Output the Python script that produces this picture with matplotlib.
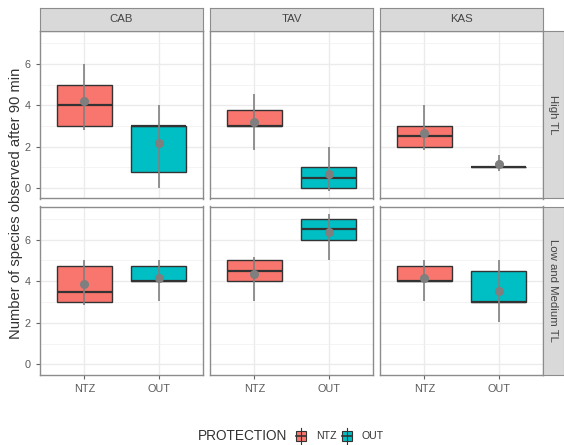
import matplotlib.pyplot as plt
from matplotlib.patches import Rectangle
from matplotlib.lines import Line2D
from matplotlib.transforms import Affine2D

plt.rcParams['font.family'] = ['Liberation Sans', 'DejaVu Sans']

sites = ["CAB", "TAV", "KAS"]
levels = ["High TL", "Low and Medium TL"]
protection = ["NTZ", "OUT"]
colors = ["#F8766D", "#00BFC4"]

# [level][site][NTZ, OUT]
q1 = [[[3, 0.75], [3, 0], [2, 1]],
      [[3, 4], [4, 6], [4, 3]]]
med = [[[4, 3], [3, 0.5], [2.5, 1]],
       [[3.5, 4], [4.5, 6.5], [4, 3]]]
q3 = [[[5, 3], [3.75, 1], [3, 1]],
      [[4.75, 4.75], [5, 7], [4.75, 4.5]]]
mean = [[[4.2, 2.17], [3.2, 0.68], [2.68, 1.17]],
        [[3.85, 4.17], [4.36, 6.35], [4.17, 3.52]]]
lo = [[[2.8, 0], [1.83, -0.14], [1.83, 0.8]],
      [[2.84, 3.05], [3.06, 5.03], [3.06, 2.03]]]
hi = [[[6, 4], [4.55, 2], [4, 1.6]],
      [[5, 5], [5.17, 7.22], [5, 5]]]

W, H = 564, 445
fig = plt.figure(figsize=(W / 100, H / 100), dpi=100)
px = Affine2D().scale(1 / W, -1 / H).translate(0, 1) + fig.transFigure

def rect(x0, y0, x1, y1):
    return [x0 / W, 1 - y1 / H, (x1 - x0) / W, (y1 - y0) / H]

border = "#8c8c8c"
col_x = [40, 210, 380]
pw = 163
row_y = [(31, 198.5), (206.5, 375)]

for r in range(2):
    for c in range(3):
        ax = fig.add_axes(rect(col_x[c], row_y[r][0], col_x[c] + pw, row_y[r][1]))
        stats = []
        for k in range(2):
            stats.append(dict(med=med[r][c][k], q1=q1[r][c][k], q3=q3[r][c][k],
                              whislo=q1[r][c][k], whishi=q3[r][c][k], fliers=[]))
        bp = ax.bxp(stats, positions=[1, 2], widths=0.75, patch_artist=True,
                    showcaps=False, showfliers=False,
                    boxprops=dict(edgecolor="#333333", linewidth=1),
                    medianprops=dict(color="#333333", linewidth=1.6),
                    whiskerprops=dict(linewidth=0))
        for k, b in enumerate(bp["boxes"]):
            b.set_facecolor(colors[k])
            b.set_zorder(2)
        for m in bp["medians"]:
            m.set_zorder(3)
        ax.vlines([1, 2], lo[r][c], hi[r][c], color="#808080", linewidth=1.2, zorder=4)
        ax.plot([1, 2], mean[r][c], "o", color="#7f7f7f", markersize=5.5, zorder=5)

        ax.set_xlim(0.4, 2.6)
        ax.set_ylim(-0.51, 7.59)
        ax.set_xticks([1, 2])
        ax.set_yticks([0, 2, 4, 6])
        ax.set_yticks([1, 3, 5, 7], minor=True)
        ax.grid(True, which="major", color="#ebebeb", linewidth=1, zorder=0)
        ax.grid(True, which="minor", axis="y", color="#f2f2f2", linewidth=0.6, zorder=0)
        ax.set_axisbelow(True)
        ax.tick_params(which="minor", left=False)
        ax.tick_params(colors="#666666", labelsize=7.8, length=3, width=0.8,
                       labelcolor="#5a5a5a")
        for s in ax.spines.values():
            s.set_color(border)
            s.set_linewidth(1)
        if r == 0:
            ax.set_xticklabels([])
            ax.tick_params(axis="x", length=0)
        else:
            ax.set_xticklabels(protection)
        if c > 0:
            ax.set_yticklabels([])
            ax.tick_params(axis="y", length=0)

# top strips
for c in range(3):
    sax = fig.add_axes(rect(col_x[c], 8, col_x[c] + pw, 31))
    sax.set_facecolor("#d9d9d9")
    sax.set_xticks([])
    sax.set_yticks([])
    for s in sax.spines.values():
        s.set_color(border)
    sax.text(0.5, 0.5, sites[c], ha="center", va="center", fontsize=8.2,
             color="#444444", transform=sax.transAxes)

# right strips
for r in range(2):
    sax = fig.add_axes(rect(543, row_y[r][0], 564, row_y[r][1]))
    sax.set_facecolor("#d9d9d9")
    sax.set_xticks([])
    sax.set_yticks([])
    for s in sax.spines.values():
        s.set_color(border)
    sax.text(0.5, 0.5, levels[r], ha="center", va="center", fontsize=8.2,
             color="#444444", rotation=-90, transform=sax.transAxes)

fig.text(16, 203, "Number of species observed after 90 min", transform=px,
         rotation=90, ha="center", va="center", fontsize=10.6, color="#333333")

# legend
ly = 436
fig.text(198, ly, "PROTECTION", transform=px, ha="left", va="center",
         fontsize=9.8, color="#333333")
key_x = [296, 342]
lab_x = [316, 362]
for k in range(2):
    x0 = key_x[k]
    fig.add_artist(Line2D([x0 + 4.5, x0 + 4.5], [428, 444], transform=px,
                          color="#333333", linewidth=0.8))
    fig.add_artist(Rectangle((x0, 431), 9.5, 10, transform=px,
                             facecolor=colors[k], edgecolor="#333333", linewidth=0.8))
    fig.add_artist(Line2D([x0, x0 + 9.5], [ly, ly], transform=px,
                          color="#333333", linewidth=1.2))
    fig.text(lab_x[k], ly, protection[k], transform=px, ha="left", va="center",
             fontsize=7.6, color="#333333")

fig.savefig("out.png", dpi=100)
